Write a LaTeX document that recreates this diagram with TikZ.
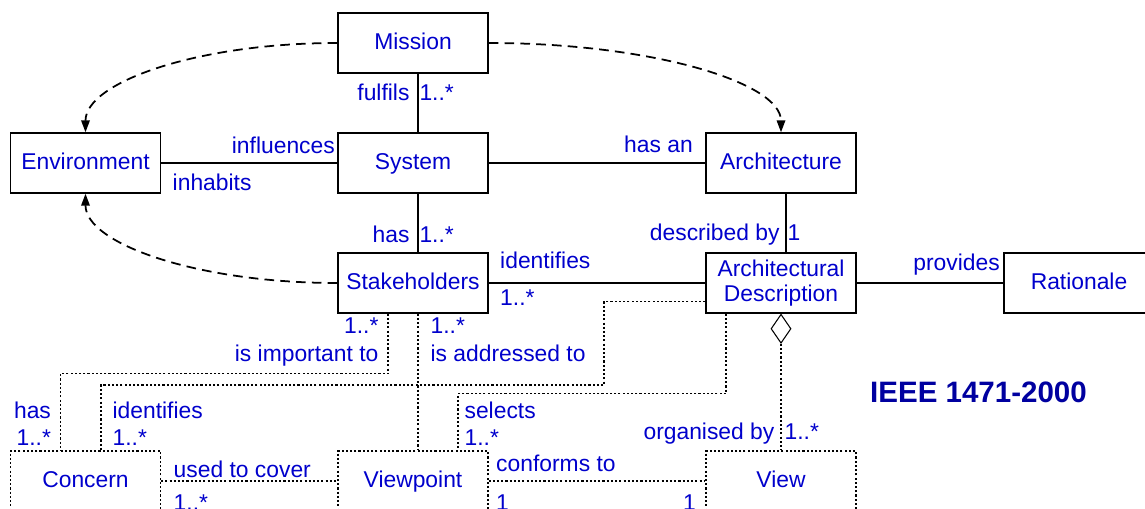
\documentclass[tikz,border=0pt]{standalone}
\usepackage{fontspec}
\setmainfont{Liberation Sans}
\usepackage{tikz}
\usetikzlibrary{arrows.meta,shapes.geometric,positioning}

\definecolor{lblue}{RGB}{0,0,204}
\definecolor{dblue}{RGB}{0,0,160}

\begin{document}
\begin{tikzpicture}[
		font=\fontsize{13}{14.5}\selectfont,
		box/.style={draw,line width=0.8pt,minimum width=3cm,minimum height=1.2cm,inner sep=0pt,text=lblue,align=center,text height=0.72em,text depth=0pt},
		dbox/.style={box,line width=0.7pt,dash pattern=on 1.2pt off 1.2pt},
		lbl/.style={text=lblue,inner sep=0pt},
		assoc/.style={line width=0.6pt},
		dep/.style={line width=0.7pt,dash pattern=on 1.2pt off 1.2pt},
		flow/.style={line width=1pt,dash pattern=on 5.5pt off 3.5pt,-{Triangle[length=2.4mm,width=1.7mm]}}]
		\useasboundingbox (0,0) rectangle (22.9,-10.16);

		\node[box] (ms) at (8.26,-0.86) {Mission};
		\node[box] (env) at (1.71,-3.26) {Environment};
		\node[box] (sy) at (8.26,-3.26) {System};
		\node[box] (ar) at (15.62,-3.26) {Architecture};
		\node[box] (sh) at (8.26,-5.66) {Stakeholders};
		\node[box,text height={},text depth={}] (ad) at (15.62,-5.66) {Architectural\\Description};
		\node[box] (rt) at (21.58,-5.66) {Rationale};
		\node[dbox] (cn) at (1.71,-9.62) {Concern};
		\node[dbox] (vp) at (8.26,-9.62) {Viewpoint};
		\node[dbox] (vw) at (15.62,-9.62) {View};

		\node[font=\bfseries\fontsize{16.8}{20}\selectfont,text=dblue] (ieee) at (19.57,-7.84) {IEEE 1471-2000};

		\draw[flow] (ms.west) .. controls +(-2.8,0) and +(0,1) .. (env.north);
		\draw[flow] (ms.east) .. controls +(3.24,0) and +(0,1) .. (ar.north);
		\draw[flow] (sh.west) .. controls +(-2.8,0) and +(0,-1) .. (env.south);

		\draw[assoc] ([xshift=1mm]ms.south) -- ([xshift=1mm]sy.north)
			node[lbl,pos=0,anchor=base east,shift={(-0.16,-0.54)}] (fulfils) {fulfils}
			node[lbl,pos=0,anchor=base west,shift={(0.02,-0.54)}] (fulfilsm) {1..*};
		\draw[assoc] ([xshift=1mm]sy.south) -- ([xshift=1mm]sh.north)
			node[lbl,pos=1,anchor=base east,shift={(-0.16,0.2)}] (has) {has}
			node[lbl,pos=1,anchor=base west,shift={(0.02,0.2)}] (hasm) {1..*};
		\draw[assoc] ([xshift=1mm]ar.south) -- ([xshift=1mm]ad.north)
			node[lbl,pos=1,anchor=base east,shift={(-0.12,0.24)}] (descr) {described by}
			node[lbl,pos=1,anchor=base west,shift={(0.02,0.24)}] (descrm) {1};
		\draw[assoc] (env.east) -- (sy.west)
			node[lbl,pos=1,anchor=base east,shift={(-0.04,0.2)}] (infl) {influences}
			node[lbl,pos=0,anchor=base west,shift={(0.22,-0.54)}] (inhab) {inhabits};
		\draw[assoc] (sy.east) -- (ar.west)
			node[lbl,pos=1,anchor=base east,shift={(-0.24,0.22)}] (hasan) {has an};
		\draw[assoc] (sh.east) -- (ad.west)
			node[lbl,pos=0,anchor=base west,shift={(0.22,0.3)}] (ident) {identifies}
			node[lbl,pos=0,anchor=base west,shift={(0.22,-0.44)}] (identm) {1..*};
		\draw[assoc] (ad.east) -- (rt.west)
			node[lbl,pos=1,anchor=base east,shift={(-0.06,0.26)}] (prov) {provides};

		\node[diamond,draw,line width=0.6pt,aspect=0.7,minimum width=0.4cm,minimum height=0.58cm,inner sep=0pt,anchor=north] (agg) at (ad.south) {};
		\draw[dep] (agg.south) -- (vw.north)
			node[lbl,pos=1,anchor=base east,shift={(-0.12,0.22)}] (organ) {organised by}
			node[lbl,pos=1,anchor=base west,shift={(0.06,0.22)}] (organm) {1..*};

		\draw[dep] ([xshift=-5mm]sh.south) -- ++(0,-1.2)
			node[lbl,pos=0,anchor=base east,shift={(-0.18,-0.4)}] (impm) {1..*}
			node[lbl,pos=0,anchor=base east,shift={(-0.18,-0.96)}] (imp) {is important to}
			-| ([xshift=-5mm]cn.north)
			node[lbl,pos=1,anchor=base east,shift={(-0.18,0.64)}] (cnhas) {has}
			node[lbl,pos=1,anchor=base east,shift={(-0.18,0.1)}] (cnhasm) {1..*};
		\draw[dep] ([xshift=1mm]sh.south) -- ([xshift=1mm]vp.north)
			node[lbl,pos=0,anchor=base west,shift={(0.24,-0.4)}] (addrm) {1..*}
			node[lbl,pos=0,anchor=base west,shift={(0.24,-0.96)}] (addr) {is addressed to};

		\coordinate (adbend) at (12.08,-7.7);
		\draw[dep] ([yshift=-3.7mm]ad.west) -| (adbend) -| ([xshift=3.1mm]cn.north)
			node[lbl,pos=1,anchor=base west,shift={(0.22,0.64)}] (cnid) {identifies}
			node[lbl,pos=1,anchor=base west,shift={(0.22,0.1)}] (cnidm) {1..*};
		\draw[dep] ([xshift=-11mm]ad.south) -- ++(0,-1.6) -| ([xshift=9mm]vp.north)
			node[lbl,pos=1,anchor=base west,shift={(0.12,0.64)}] (sel) {selects}
			node[lbl,pos=1,anchor=base west,shift={(0.12,0.1)}] (selm) {1..*};

		\draw[dep] (cn.east) -- (vp.west)
			node[lbl,pos=0,anchor=base west,shift={(0.24,0.08)}] (cover) {used to cover}
			node[lbl,pos=0,anchor=base west,shift={(0.24,-0.58)}] (coverm) {1..*};
		\draw[dep] (vp.east) -- (vw.west)
			node[lbl,pos=0,anchor=base west,shift={(0.14,0.2)}] (conf) {conforms to}
			node[lbl,pos=0,anchor=base west,shift={(0.14,-0.58)}] (confm) {1}
			node[lbl,pos=1,anchor=base east,shift={(-0.18,-0.58)}] (confv) {1};
	\end{tikzpicture}
\end{document}
